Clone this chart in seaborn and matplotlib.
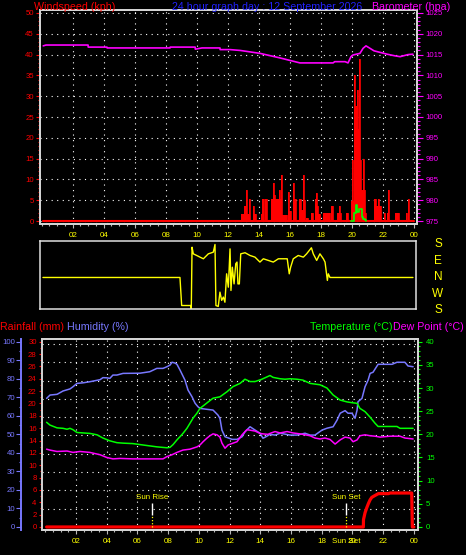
import matplotlib
matplotlib.use("Agg")
import matplotlib.pyplot as plt
from matplotlib.ticker import MultipleLocator, FixedLocator
import seaborn as sns

# ---------------- data ----------------
hour_ticks = list(range(2, 25, 2))
hour_labels = [f"{h % 24:02d}" for h in hour_ticks]

# wind gusts (kph), step series: value holds until next hour
gust_hours = [0.08, 12.86, 13.05, 13.18, 13.24, 13.36, 13.45, 13.6, 13.68, 13.85,
              14.12, 14.2, 14.36, 14.4, 14.52, 14.77, 14.92, 14.97, 15.08, 15.3,
              15.36, 15.46, 15.52, 15.82, 15.88, 15.98, 16.08, 16.2, 16.27, 16.38,
              16.6, 16.75, 16.86, 16.92, 16.99, 17.05, 17.2, 17.4, 17.52, 17.62,
              17.7, 17.75, 17.82, 17.97, 18.15, 18.62, 18.68, 18.8, 19.02, 19.18,
              19.23, 19.28, 19.66, 19.78, 19.98, 20.03, 20.08, 20.13, 20.2, 20.33,
              20.38, 20.46, 20.52, 20.62, 20.73, 20.78, 20.84, 20.92, 21.42, 21.55,
              21.68, 21.76, 21.86, 22.06, 22.16, 22.25, 22.32, 22.38, 22.78, 23.02,
              23.48, 23.54, 23.62, 23.68, 24.0]
gust_kph = [0, 1.8, 3.6, 7.5, 1.8, 5.4, 0, 3.6, 1.8, 0,
            1.8, 5.4, 0, 5.4, 0, 5.4, 9.2, 6.2, 5.4, 7.5,
            5.4, 11, 1.5, 0, 7, 2.5, 0, 9.2, 5.4, 0,
            5.4, 2.7, 11, 5, 0, 0.8, 0, 2, 0, 5.4,
            6.8, 3.6, 1.8, 0, 1.9, 0, 3.6, 0, 1.9, 3.6,
            1.9, 0, 1.9, 0, 4.7, 14.7, 4.7, 35, 27.7, 31.5,
            22, 39, 14.7, 7.5, 15, 7.5, 1.9, 0, 5.4, 3.6,
            5.4, 3.6, 0, 1.9, 0, 1.9, 7.5, 0, 1.9, 0,
            1.9, 0, 5.4, 0, 0]

# average wind speed (kph)
avg_hours = [19.98, 20.15, 20.26, 20.36, 20.46, 20.6, 20.65, 20.73, 20.83, 20.9]
avg_kph = [0, 1.9, 3.8, 2.1, 3.0, 3.0, 1.0, 0.6, 0.3, 0]

# barometer (hPa)
baro_hours = [0.10, 0.28, 2.99, 3.0, 4.21, 4.22, 8.28, 8.29, 9.90, 9.91,
              10.34, 11.50, 11.51, 12.15, 12.80, 14.08, 15.37, 16.66, 18.80, 18.90,
              19.57, 19.76, 19.95, 20.08, 20.53, 20.73, 20.92, 21.18, 21.44, 22.28,
              22.79, 23.12, 23.63, 23.95]
baro_hpa = [1017.1, 1017.3, 1017.3, 1016.8, 1016.8, 1016.6, 1016.6, 1016.8, 1016.8, 1016.3,
            1016.6, 1016.6, 1016.2, 1016.2, 1016.0, 1015.3, 1014.2, 1013.0, 1013.0, 1013.3,
            1013.3, 1013.0, 1014.5, 1014.9, 1015.3, 1016.5, 1017.1, 1016.5, 1015.9, 1015.1,
            1014.7, 1014.5, 1015.0, 1015.1]

# wind direction (degrees, N = 0, E = +90, W = -90, S = +/-180)
dir_hours = [0.08, 8.92, 9.03, 9.63, 9.65, 9.70, 9.78, 10.00, 10.21, 10.43,
             10.75, 11.07, 11.18, 11.24, 11.39, 11.50, 11.61, 11.72, 11.82, 11.93,
             12.04, 12.15, 12.21, 12.30, 12.41, 12.52, 12.60, 12.66, 12.75, 12.84,
             13.12, 13.44, 13.76, 14.08, 14.30, 14.62, 14.94, 15.27, 15.59, 15.84,
             15.97, 16.06, 16.23, 16.55, 16.88, 17.09, 17.40, 17.52, 17.74, 17.95,
             18.17, 18.28, 18.43, 18.49, 18.60, 23.95]
dir_deg = [0, 0, -153, -153, -172, 165, 129, 120, 111, 102,
           129, 138, 180, -153, -158, -80, -125, -107, -135, 20,
           -53, 156, -71, 56, -35, 75, 84, -35, -35, 129,
           135, 120, 111, 84, 102, 93, 84, 102, 102, 102,
           20, 56, 102, 120, 111, 129, 162, 129, 93, 129,
           102, 84, -16, 20, 0, 0]
compass_labels = ["S", "E", "N", "W", "S"]
compass_deg = [180, 90, 0, -90, -180]

# humidity (%)
hum_hours = [0.08, 0.30, 0.76, 1.15, 1.60, 1.80, 2.06, 2.45, 2.90, 3.56,
             3.75, 4.00, 4.20, 4.40, 4.66, 5.06, 6.16, 6.80, 7.26, 7.66,
             7.92, 8.12, 8.25, 8.44, 8.57, 8.77, 9.09, 9.29, 9.55, 9.75,
             9.94, 10.07, 10.53, 10.92, 11.24, 11.37, 11.50, 11.70, 12.16, 12.48,
             12.81, 13.00, 13.33, 13.66, 13.98, 14.17, 14.30, 14.63, 14.96, 15.29,
             15.94, 16.39, 16.91, 17.24, 17.56, 18.02, 18.34, 18.74, 19.00, 19.20,
             19.52, 19.71, 19.97, 20.17, 20.30, 20.36, 20.62, 20.82, 21.02, 21.15,
             21.34, 21.67, 22.12, 22.58, 22.90, 23.42, 23.62, 23.95]
hum_pct = [69.4, 71.2, 71.6, 73.4, 74.5, 75.7, 77.5, 77.8, 78.4, 79.5,
           80.6, 80.5, 80.2, 82.0, 82.0, 82.9, 83.0, 83.8, 85.6, 85.6,
           86.5, 87.4, 88.9, 88.5, 87.8, 84.7, 79.3, 73.9, 70.3, 66.8,
           64.9, 64.0, 63.5, 63.1, 60.4, 58.6, 52.3, 48.7, 47.3, 47.3,
           48.7, 51.4, 54.1, 52.3, 50.6, 47.9, 48.4, 50.0, 49.6, 50.6,
           49.6, 49.6, 50.6, 49.6, 49.6, 52.3, 53.3, 54.1, 57.7, 61.4,
           62.8, 61.4, 61.4, 58.7, 63.0, 67.6, 69.4, 75.7, 79.3, 82.9,
           83.5, 87.8, 87.8, 87.8, 88.9, 88.9, 86.9, 86.5]

# temperature (C)
temp_hours = [0.08, 0.30, 0.76, 1.15, 1.41, 1.60, 1.80, 2.06, 2.90, 3.36,
              3.75, 4.20, 4.66, 5.06, 5.70, 6.36, 7.26, 7.92, 8.12, 8.32,
              8.57, 8.77, 8.96, 9.22, 9.42, 9.62, 9.88, 10.07, 10.53, 10.92,
              11.37, 11.83, 12.22, 12.68, 13.00, 13.33, 13.66, 14.10, 14.63, 14.83,
              15.29, 15.61, 15.94, 16.39, 16.78, 17.24, 17.89, 18.34, 18.74, 19.20,
              19.65, 20.04, 20.30, 20.49, 20.82, 21.15, 21.47, 21.67, 22.45, 22.90,
              23.10, 23.95]
temp_c = [22.6, 22.0, 21.4, 21.3, 21.1, 21.3, 21.0, 20.4, 20.2, 19.9,
          19.2, 18.6, 18.2, 18.1, 18.0, 17.7, 17.3, 17.1, 17.2, 17.8,
          18.8, 19.5, 20.2, 21.3, 22.4, 23.5, 24.6, 25.6, 26.8, 27.8,
          28.1, 29.2, 30.3, 31.0, 31.9, 31.4, 31.4, 31.9, 32.7, 32.3,
          32.0, 31.9, 32.0, 31.9, 31.7, 31.0, 30.7, 30.0, 28.5, 27.4,
          27.0, 26.8, 26.7, 25.6, 24.9, 23.7, 22.4, 21.7, 21.7, 21.7,
          21.3, 21.3]

# dew point (C)
dew_hours = [0.08, 0.30, 0.76, 1.41, 1.80, 2.25, 2.90, 3.56, 4.00, 4.40,
             4.86, 5.70, 6.80, 7.66, 7.92, 8.25, 8.57, 8.96, 9.42, 9.88,
             10.07, 10.27, 10.53, 10.72, 10.92, 11.18, 11.37, 11.50, 11.70, 11.90,
             12.22, 12.48, 12.81, 13.13, 13.33, 13.66, 13.98, 14.17, 14.50, 14.63,
             14.96, 15.29, 15.74, 16.13, 16.59, 16.91, 17.24, 17.56, 17.89, 18.21,
             18.54, 18.87, 19.20, 19.52, 19.84, 20.04, 20.30, 20.49, 20.82, 21.15,
             21.47, 21.80, 22.45, 23.10, 23.42, 23.95]
dew_c = [16.8, 16.6, 16.3, 16.4, 16.1, 16.3, 16.1, 15.6, 15.0, 14.7,
         14.8, 14.7, 14.7, 14.7, 15.2, 15.6, 16.1, 16.6, 16.8, 17.3,
         17.7, 18.4, 19.2, 19.7, 20.1, 19.9, 19.4, 18.1, 17.0, 17.7,
         18.1, 18.4, 19.9, 21.0, 20.9, 20.7, 20.2, 20.1, 20.0, 20.2,
         20.6, 20.3, 20.6, 20.3, 20.1, 19.9, 19.7, 19.2, 19.0, 19.2,
         18.9, 17.9, 18.8, 19.4, 19.2, 18.4, 18.8, 19.7, 19.9, 19.7,
         19.6, 19.4, 19.6, 19.6, 19.2, 19.0]

# rainfall (mm)
rain_hours = [0.08, 20.71, 20.72, 20.82, 20.93, 21.04, 21.15, 21.26, 21.47, 21.69,
              22.34, 22.45, 23.86, 23.90, 24.0]
rain_mm = [0, 0, 1.2, 2.3, 3.1, 3.8, 4.4, 4.8, 5.1, 5.4,
           5.4, 5.5, 5.5, 0, 0]

sun_hours = [6.96, 19.58]
sun_names = ["Sun Rise", "Sun Set"]

title_text = "24 hour graph day : 12 September 2026"

# ---------------- style ----------------
sns.set_theme(style="dark")
plt.rcParams["font.family"] = ["Liberation Sans", "DejaVu Sans"]
plt.rcParams["axes.facecolor"] = "black"
plt.rcParams["figure.facecolor"] = "black"
plt.rcParams["savefig.facecolor"] = "black"

RED = "#ff0000"
MAG = "#ff00ff"
YEL = "#ffff00"
GRN = "#00ff00"
HUM = "#7878ff"
BLUE = "#2222ff"
FRAME = "#d4d4d4"
TICKC = "#b8b8b8"
DOT = (0, (1, 4))
TFS = 5.6
HFS = 7.7

W, H = 466, 555
fig = plt.figure(figsize=(W / 100, H / 100), dpi=100)


def rect(x0, y0, x1, y1):
    return [x0 / W, 1 - y1 / H, (x1 - x0) / W, (y1 - y0) / H]


def ftext(x, y, s, color, size, ha="left"):
    fig.text(x / W, 1 - y / H, s, color=color, fontsize=size, ha=ha, va="center")


def frame(ax, color=FRAME, lw=1.4):
    for s in ax.spines.values():
        s.set_color(color)
        s.set_linewidth(lw)


def hour_axis(ax):
    ax.xaxis.set_major_locator(FixedLocator(hour_ticks))
    ax.set_xticklabels(hour_labels)
    ax.xaxis.set_minor_locator(MultipleLocator(0.5))
    ax.tick_params(axis="x", which="both", bottom=True, top=False, colors=TICKC,
                   labelcolor=YEL, labelsize=5.8, width=0.8, pad=2.5)
    ax.tick_params(axis="x", which="major", length=3)
    ax.tick_params(axis="x", which="minor", length=1.6)


# ---------------- top panel: wind + barometer ----------------
ax1 = fig.add_axes(rect(40, 10, 417, 224))
ax1.set_xlim(-0.11, 24.21)
ax1.set_ylim(-0.72, 50.72)
ax1.fill_between(gust_hours, 0, gust_kph, step="post", color=RED, linewidth=0, zorder=2)
sns.lineplot(x=gust_hours, y=gust_kph, ax=ax1, color=RED, lw=0.6,
             drawstyle="steps-post", errorbar=None, zorder=3)
sns.lineplot(x=[gust_hours[0], gust_hours[-1]], y=[min(gust_kph)] * 2, ax=ax1,
             color=RED, lw=1.5, errorbar=None, zorder=3)
sns.lineplot(x=avg_hours, y=avg_kph, ax=ax1, color=GRN, lw=1.2,
             drawstyle="steps-post", errorbar=None, zorder=4)
hour_axis(ax1)
ax1.yaxis.set_major_locator(MultipleLocator(5))
ax1.yaxis.set_minor_locator(MultipleLocator(1))
ax1.tick_params(axis="y", which="both", left=True, right=False, colors=RED,
                labelcolor=RED, labelsize=TFS, width=0.8, pad=1.5)
ax1.tick_params(axis="y", which="major", length=3)
ax1.tick_params(axis="y", which="minor", length=1.5)
ax1.grid(True, which="major", color="white", linestyle=DOT, linewidth=0.8)
ax1.set_xlabel("")
ax1.set_ylabel("")
frame(ax1)

ax1b = ax1.twinx()
ax1b.set_ylim(974.28, 1025.72)
sns.lineplot(x=baro_hours, y=baro_hpa, ax=ax1b, color=MAG, lw=1.2, errorbar=None)
ax1b.yaxis.set_major_locator(MultipleLocator(5))
ax1b.yaxis.set_minor_locator(MultipleLocator(1))
ax1b.tick_params(axis="y", which="both", right=True, left=False, colors=MAG,
                 labelcolor=MAG, labelsize=TFS, width=0.8, pad=2)
ax1b.tick_params(axis="y", which="major", length=4.3)
ax1b.tick_params(axis="y", which="minor", length=2.4)
ax1b.grid(False)
ax1b.set_ylabel("")
frame(ax1b)

ftext(34, 6.5, "Windspeed (kph)", RED, HFS)
ftext(172, 6.5, title_text, BLUE, HFS)
ftext(372, 6.5, "Barometer (hpa)", MAG, HFS)

# ---------------- wind direction panel ----------------
axd = fig.add_axes(rect(40, 241, 416.5, 309))
axd.set_xlim(-0.11, 24.18)
axd.set_ylim(-172, 199)
sns.lineplot(x=dir_hours, y=dir_deg, ax=axd, color=YEL, lw=1.0, errorbar=None)
axd.set_xticks([])
axd.set_yticks([])
axd.grid(False)
axd.set_xlabel("")
axd.set_ylabel("")
frame(axd, color="#e0e0e0", lw=1.1)
for lab, deg in zip(compass_labels, compass_deg):
    axd.text(1.057, deg, lab, transform=axd.get_yaxis_transform(), color=YEL,
             fontsize=8.5, ha="center", va="center", clip_on=False)

# ---------------- bottom panel: rain, humidity, temperature ----------------
r0, r1 = -0.49, 30.39
ax3 = fig.add_axes(rect(42.3, 339.3, 417.7, 530))
ax3.set_xlim(-0.2, 24.25)
ax3.set_ylim(r0, r1)
hour_axis(ax3)
ax3.grid(True, axis="x", which="major", color="white", linestyle=DOT, linewidth=0.8)
ax3.grid(False, axis="y")
for k in range(1, 11):
    ax3.axhline(k * 2.964, color="white", linestyle=DOT, linewidth=0.8, zorder=1)
sns.lineplot(x=rain_hours, y=rain_mm, ax=ax3, color=RED, lw=2.3, errorbar=None, zorder=3)
ax3.vlines(sun_hours, 1.94, 3.9, color="white", lw=1.0, zorder=4)
ax3.vlines(sun_hours, 0, 1.94, color=YEL, lw=0.9, linestyles=[(0, (1, 1.5))], zorder=4)
for sh, nm in zip(sun_hours, sun_names):
    ax3.text(sh, 4.8, nm, color=YEL, fontsize=5.8, ha="center", va="center")
ax3.text(sun_hours[1], -0.06, "Sun Set", transform=ax3.get_xaxis_transform(),
         color=YEL, fontsize=5.8, ha="center", va="center", clip_on=False)
ax3.yaxis.set_major_locator(MultipleLocator(2))
ax3.yaxis.set_minor_locator(MultipleLocator(1))
ax3.tick_params(axis="y", which="both", left=True, right=False, colors=RED,
                labelcolor=RED, labelsize=TFS, width=0.8, pad=1.5)
ax3.tick_params(axis="y", which="major", length=2.5)
ax3.tick_params(axis="y", which="minor", length=1.4)
ax3.set_xlabel("")
ax3.set_ylabel("")
frame(ax3)

ax3h = ax3.twinx()
ax3h.set_ylim(r0 * 100 / 30, r1 * 100 / 30)
sns.lineplot(x=hum_hours, y=hum_pct, ax=ax3h, color=HUM, lw=1.1, errorbar=None)
ax3h.yaxis.tick_left()
ax3h.yaxis.set_label_position("left")
ax3h.yaxis.set_major_locator(MultipleLocator(10))
ax3h.yaxis.set_minor_locator(MultipleLocator(5))
ax3h.tick_params(axis="y", which="both", left=True, right=False, labelleft=True,
                 labelright=False, colors=HUM, labelcolor=HUM, labelsize=TFS,
                 width=0.8, pad=1)
ax3h.tick_params(axis="y", which="major", length=3.3)
ax3h.tick_params(axis="y", which="minor", length=1.6)
ax3h.grid(False)
ax3h.set_ylabel("")
for side in ["right", "top", "bottom"]:
    ax3h.spines[side].set_visible(False)
ax3h.spines["left"].set_position(("outward", 15.1))
ax3h.spines["left"].set_color(HUM)
ax3h.spines["left"].set_linewidth(1.4)

ax3t = ax3.twinx()
ax3t.set_ylim(r0 * 40 / 30, r1 * 40 / 30)
sns.lineplot(x=temp_hours, y=temp_c, ax=ax3t, color=GRN, lw=1.1, errorbar=None)
sns.lineplot(x=dew_hours, y=dew_c, ax=ax3t, color=MAG, lw=1.1, errorbar=None)
ax3t.yaxis.set_major_locator(MultipleLocator(5))
ax3t.yaxis.set_minor_locator(MultipleLocator(1))
ax3t.tick_params(axis="y", which="both", right=True, left=False, colors=GRN,
                 labelcolor=GRN, labelsize=TFS, width=0.8, pad=3)
ax3t.tick_params(axis="y", which="major", length=3)
ax3t.tick_params(axis="y", which="minor", length=1.6)
ax3t.grid(False)
ax3t.set_ylabel("")
frame(ax3t)
ax3t.spines["left"].set_visible(False)

ftext(0.5, 327, "Rainfall (mm)", RED, HFS)
ftext(67, 327, "Humidity (%)", HUM, HFS)
ftext(393, 327, "Temperature (°C)", GRN, HFS, ha="right")
ftext(393, 327, "Dew Point (°C)", MAG, HFS)

fig.savefig("out.png", dpi=100, facecolor="black")
